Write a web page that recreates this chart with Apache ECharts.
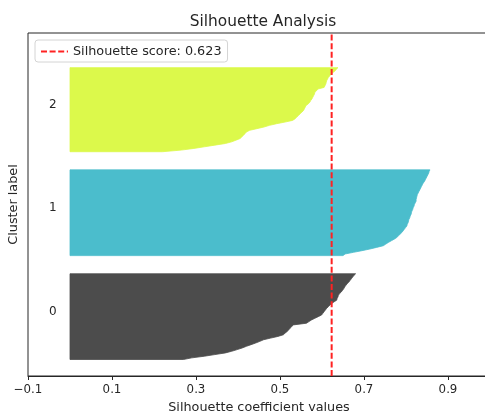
<!DOCTYPE html>
<html>
<head>
<meta charset="utf-8">
<script src="https://cdn.jsdelivr.net/npm/echarts@6/dist/echarts.min.js"></script>
<style>
  html, body { margin: 0; padding: 0; background: #fff; }
  #chart { width: 485px; height: 418px; }
</style>
</head>
<body>
<div id="chart"></div>
<script>
// sorted silhouette values per cluster (bottom row first)
const clusterNames = ['0', '1', '2'];
const cluster0 = [
  0.270, 0.290, 0.320, 0.345, 0.370, 0.385, 0.398, 0.410, 0.420, 0.431,
  0.442, 0.452, 0.461, 0.478, 0.495, 0.508, 0.512, 0.517, 0.521, 0.524,
  0.528, 0.532, 0.563, 0.569, 0.575, 0.583, 0.591, 0.599, 0.602, 0.605,
  0.608, 0.611, 0.615, 0.619, 0.623, 0.629, 0.635, 0.636, 0.638, 0.639,
  0.642, 0.646, 0.649, 0.652, 0.654, 0.657, 0.660, 0.664, 0.667, 0.670,
  0.673, 0.676, 0.680
];
const cluster1 = [
  0.650, 0.655, 0.675, 0.695, 0.714, 0.730, 0.746, 0.752, 0.758, 0.765,
  0.772, 0.778, 0.782, 0.786, 0.790, 0.793, 0.796, 0.799, 0.802, 0.803,
  0.805, 0.806, 0.807, 0.809, 0.810, 0.812, 0.813, 0.814, 0.816, 0.817,
  0.819, 0.820, 0.822, 0.824, 0.824, 0.825, 0.826, 0.827, 0.829, 0.831,
  0.833, 0.835, 0.837, 0.839, 0.841, 0.844, 0.846, 0.848, 0.850, 0.852,
  0.854, 0.855, 0.857
];
const cluster2 = [
  0.220, 0.265, 0.295, 0.320, 0.345, 0.370, 0.385, 0.395, 0.405, 0.409,
  0.413, 0.417, 0.420, 0.428, 0.445, 0.462, 0.475, 0.492, 0.512, 0.530,
  0.536, 0.540, 0.544, 0.548, 0.552, 0.556, 0.558, 0.560, 0.562, 0.567,
  0.571, 0.573, 0.576, 0.578, 0.580, 0.582, 0.583, 0.587, 0.590, 0.605,
  0.607, 0.609, 0.610, 0.611, 0.613, 0.615, 0.618, 0.622, 0.626, 0.631,
  0.634, 0.638
];
const clusterColors = ['#4c4c4c', '#4bbdcc', '#dcf94b'];
const silhouetteScore = 0.623;
const xRange = [-0.1, 1.0];
const yRange = [0, 208];

const FONT = 'DejaVu Sans';
const TEXT = '#262626';
const scoreName = 'Silhouette score: ' + silhouetteScore.toFixed(3);

// stack the clusters like the usual silhouette plot: 10 empty rows below and between
const clusters = [cluster0, cluster1, cluster2];
let yLower = 10;
const bands = clusters.map((vals, i) => {
  const band = { name: clusterNames[i], values: vals, yLower: yLower, mid: yLower + vals.length / 2 };
  yLower += vals.length + 10;
  return band;
});

function bandPolygon(band, color) {
  return function (params, api) {
    const pts = [api.coord([0, band.yLower])];
    band.values.forEach((v, j) => pts.push(api.coord([v, band.yLower + j])));
    pts.push(api.coord([0, band.yLower + band.values.length - 1]));
    return {
      type: 'polygon',
      shape: { points: pts },
      style: { fill: color, stroke: color, lineWidth: 0.8 }
    };
  };
}

const chart = echarts.init(document.getElementById('chart'), null, { renderer: 'canvas' });

const series = bands.map((band, i) => ({
  type: 'custom',
  name: 'cluster ' + band.name,
  data: [[0, band.yLower]],
  renderItem: bandPolygon(band, clusterColors[i]),
  silent: true,
  z: 2
}));

// cluster labels at x = -0.05
series.push({
  type: 'custom',
  name: 'labels',
  data: bands.map(b => [-0.05, b.mid, b.name]),
  renderItem: function (params, api) {
    const p = api.coord([api.value(0), api.value(1)]);
    return {
      type: 'text',
      x: p[0],
      y: p[1] + 2,
      style: {
        text: bands[params.dataIndex].name,
        fill: TEXT,
        fontSize: 12,
        fontFamily: FONT,
        align: 'left',
        verticalAlign: 'bottom'
      }
    };
  },
  silent: true,
  z: 3
});

series.push({
  type: 'line',
  name: scoreName,
  data: [[silhouetteScore, yRange[0]], [silhouetteScore, yRange[1]]],
  symbol: 'none',
  lineStyle: { color: '#ff2222', width: 2, type: [6, 2.6] },
  itemStyle: { color: '#ff2222' },
  silent: true,
  z: 4
});

chart.setOption({
  animation: false,
  backgroundColor: '#fff',
  title: {
    text: 'Silhouette Analysis',
    left: 258,
    textAlign: 'center',
    top: 9,
    textStyle: { fontFamily: FONT, fontSize: 15.4, fontWeight: 'normal', color: TEXT }
  },
  legend: {
    data: [scoreName],
    left: 35,
    top: 40,
    padding: [5, 6, 4, 5],
    itemWidth: 27,
    itemHeight: 10,
    itemGap: 8,
    itemStyle: { color: 'rgba(0,0,0,0)', borderWidth: 0 },
    backgroundColor: 'rgba(255,255,255,0.85)',
    borderColor: '#d4d4d4',
    borderWidth: 1,
    borderRadius: 3,
    textStyle: { fontFamily: FONT, fontSize: 12.8, color: TEXT }
  },
  grid: {
    left: 28,
    top: 33,
    right: -5,
    bottom: 42,
    containLabel: false,
    outerBoundsMode: 'none',
    show: true,
    borderColor: '#262626',
    borderWidth: 1,
    backgroundColor: 'transparent'
  },
  xAxis: {
    type: 'value',
    min: xRange[0],
    max: xRange[1],
    interval: 0.2,
    name: 'Silhouette coefficient values',
    nameLocation: 'middle',
    nameGap: 25,
    nameTextStyle: { fontFamily: FONT, fontSize: 12.8, color: TEXT },
    axisLine: { show: true, onZero: false, lineStyle: { color: '#262626', width: 1 } },
    axisTick: { show: true, length: 4, lineStyle: { color: '#262626' } },
    axisLabel: {
      fontFamily: FONT,
      fontSize: 11.8,
      color: TEXT,
      margin: 8,
      showMaxLabel: false,
      formatter: v => (v < 0 ? '\u2212' : '') + Math.abs(v).toFixed(1)
    },
    splitLine: { show: false }
  },
  yAxis: {
    type: 'value',
    min: yRange[0],
    max: yRange[1],
    name: 'Cluster label',
    nameLocation: 'middle',
    nameGap: 8,
    nameTextStyle: { fontFamily: FONT, fontSize: 12.8, color: TEXT },
    axisLine: { show: false, onZero: false },
    axisTick: { show: false },
    axisLabel: { show: false },
    splitLine: { show: false }
  },
  series: series
});
</script>
</body>
</html>
